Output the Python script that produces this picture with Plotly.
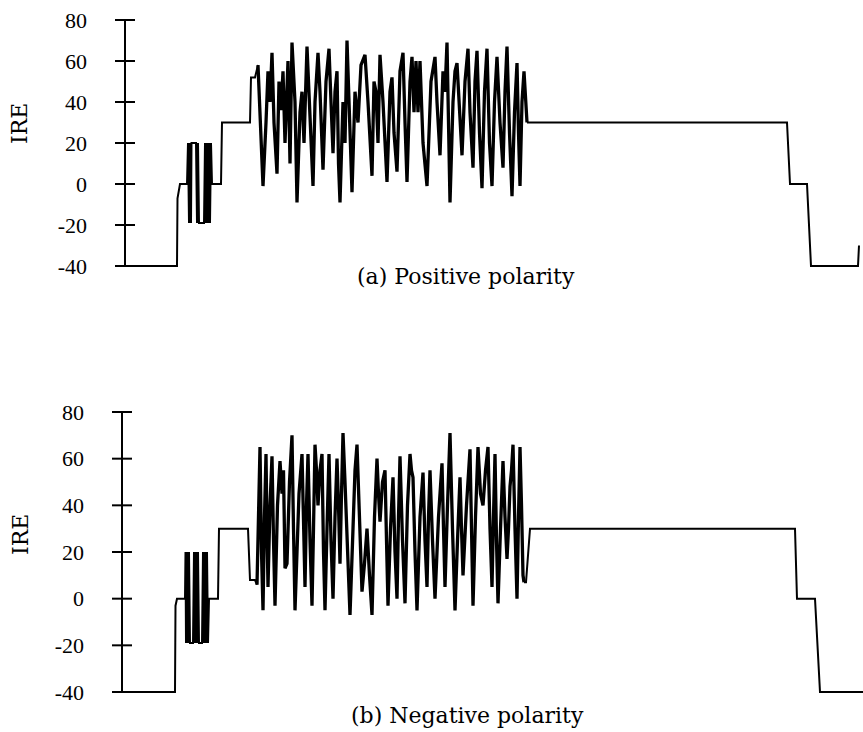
import plotly.graph_objects as go

# ---------------- data (time in µs, level in IRE) ----------------
tick_vals = [-40, -20, 0, 20, 40, 60, 80]
tick_text = ["-40", "-20", "0", "20", "40", "60", "80"]
titles = ["(a) Positive polarity", "(b) Negative polarity"]
axis_label = "IRE"

# (a) positive polarity
t_a_front = [0.0, 5.2, 5.25, 5.5, 6.2]
v_a_front = [-40, -40, -7, 0, 0]
t_a_burst = [6.3, 6.4, 6.5, 6.6, 6.65, 7.1, 7.2, 7.3, 7.4, 7.9, 8.0, 8.1, 8.2, 8.3, 8.4, 8.5, 8.6]
v_a_burst = [20, -19, 20, -19, 20, 20, -19, 20, -19, -19, 20, -19, 20, -19, 20, -19, 20]
t_a_pre = [8.7, 9.6, 9.7, 12.5, 12.6, 13.0, 13.3]
v_a_pre = [0, 0, 30, 30, 52, 52, 58]
t_a_data = [13.3, 13.6, 13.8, 14.1, 14.3, 14.5, 14.7, 14.9, 15.2, 15.4, 15.6, 15.8, 16.0,
            16.3, 16.5, 16.7, 17.0, 17.2, 17.5, 17.7, 17.9, 18.2, 18.5, 18.8, 19.0, 19.3,
            19.5, 19.8, 20.1, 20.4, 20.6, 20.8, 21.0, 21.2, 21.35, 21.5, 21.8, 22.0, 22.2,
            22.4, 22.7, 23.0, 23.3, 23.6, 24.0, 24.3, 24.7, 24.9, 25.1, 25.3, 25.5, 25.8,
            26.2, 26.5, 26.7, 26.9, 27.2, 27.5, 27.8, 28.0, 28.2, 28.5, 28.7, 28.9, 29.1,
            29.3, 29.5, 29.8, 30.2, 30.6, 31.0, 31.2, 31.5, 31.8, 32.0, 32.2, 32.35, 32.5,
            32.8, 33.0, 33.2, 33.5, 33.7, 34.0, 34.3, 34.5, 34.8, 35.0, 35.2, 35.45, 35.7,
            35.95, 36.2, 36.45, 36.7, 36.95, 37.2, 37.5, 37.8, 38.0, 38.2, 38.45, 38.7,
            38.95, 39.2, 39.35, 39.5, 39.7, 39.9, 40.2]
v_a_data = [58, 20, -1, 30, 55, 40, 64, 30, 5, 50, 36, 55, 20,
            60, 10, 69, 40, -9, 35, 45, 20, 67, 30, -1, 40, 64,
            45, 7, 50, 66, 40, 15, 45, 55, 10, -9, 40, 20, 70,
            35, -4, 45, 30, 58, 63, 40, 4, 50, 45, 20, 63, 40,
            1, 45, 52, 25, 6, 55, 64, 30, 1, 50, 62, 35, 60,
            35, 60, 20, -1, 50, 62, 40, 14, 55, 45, 69, 20, -9,
            40, 55, 59, 30, 14, 50, 66, 35, 8, 50, 65, 25, -2,
            45, 66, 20, -1, 40, 62, 30, 8, 45, 67, 25, -6,
            35, 59, 25, -1, 40, 55, 30]
t_a_back = [40.2, 66.2, 66.5, 68.2, 68.6, 73.3, 73.4]
v_a_back = [30, 30, 0, 0, -40, -40, -30]

# (b) negative polarity
t_b_front = [0.0, 5.3, 5.35, 5.5, 6.3]
v_b_front = [-40, -40, -3, 0, 0]
t_b_burst = [6.35, 6.4, 6.5, 6.6, 6.7, 6.8, 7.1, 7.2, 7.3, 7.4, 7.5, 7.6, 7.7, 8.0,
             8.1, 8.2, 8.3, 8.4, 8.5, 8.6]
v_b_burst = [20, -19, 20, -19, 20, -19, -19, 20, -19, 20, -19, 20, -19, -19,
             20, -19, 20, -19, 20, -19]
t_b_pre = [8.7, 9.6, 9.7, 12.6, 12.8, 13.3, 13.5]
v_b_pre = [0, 0, 30, 30, 8, 8, 6]
t_b_data = [13.5, 13.65, 13.8, 13.95, 14.1, 14.25, 14.4, 14.5, 14.6, 14.8, 15.0, 15.15,
            15.3, 15.55, 15.8, 16.0, 16.15, 16.3, 16.5, 16.75, 17.0, 17.15, 17.3, 17.5,
            17.7, 18.0, 18.15, 18.3, 18.45, 18.6, 18.8, 19.0, 19.15, 19.3, 19.45, 19.6,
            19.8, 20.0, 20.15, 20.3, 20.5, 20.7, 20.9, 21.1, 21.3, 21.5, 21.65, 21.8,
            21.95, 22.1, 22.3, 22.5, 22.65, 22.8, 23.1, 23.3, 23.5, 23.75, 24.0, 24.25,
            24.5, 24.75, 25.0, 25.25, 25.5, 25.65, 25.8, 26.05, 26.3, 26.45, 26.6, 26.85,
            27.1, 27.3, 27.5, 27.65, 27.8, 28.05, 28.3, 28.55, 28.8, 28.95, 29.1, 29.3,
            29.5, 29.8, 30.1, 30.3, 30.5, 30.65, 30.8, 31.05, 31.3, 31.65, 32.0, 32.15,
            32.3, 32.55, 32.8, 33.05, 33.3, 33.55, 33.8, 33.95, 34.1, 34.45, 34.8, 34.95,
            35.1, 35.35, 35.6, 35.85, 36.1, 36.35, 36.6, 36.8, 37.0, 37.15, 37.3, 37.45,
            37.6, 37.85, 38.1, 38.3, 38.5, 38.65, 38.8, 38.95, 39.1, 39.3, 39.5, 39.65,
            39.8, 39.95, 40.1, 40.2]
v_b_data = [6, 30, 65, 20, -5, 35, 62, 30, 5, 40, 61, 25,
            -3, 40, 59, 45, 55, 13, 15, 50, 70, 30, -5, 20,
            45, 62, 30, 5, 40, 62, 25, -3, 30, 66, 55, 40,
            55, 62, 20, -5, 30, 62, 25, 0, 35, 60, 40, 15,
            45, 71, 50, 30, 10, -7, 30, 55, 66, 35, 3, 15,
            30, 10, -7, 35, 60, 45, 33, 50, 55, 25, -3, 30,
            52, 20, 0, 35, 61, 25, -2, 40, 62, 55, 52, 20,
            -5, 35, 54, 25, 5, 35, 55, 25, 0, 35, 58, 30,
            5, 40, 71, 30, -5, 25, 52, 30, 10, 40, 64, 30,
            -3, 35, 65, 45, 40, 55, 65, 30, 5, 35, 62, 25,
            -2, 30, 59, 35, 17, 30, 48, 55, 66, 30, 0, 35,
            65, 40, 10, 7]
t_b_back = [40.2, 40.4, 40.8, 67.3, 67.5, 69.3, 69.8, 75.0]
v_b_back = [7, 7, 30, 30, 0, 0, -40, -40]

# ---------------- figure ----------------
W, H = 863, 732
fig = go.Figure()
flat_style = dict(color="black", width=2)
busy_style = dict(color="black", width=3.3)

panels = [
    ("x", "y", t_a_front + t_a_burst + t_a_pre, v_a_front + v_a_burst + v_a_pre,
     t_a_data, v_a_data, t_a_back, v_a_back),
    ("x2", "y2", t_b_front + t_b_burst + t_b_pre, v_b_front + v_b_burst + v_b_pre,
     t_b_data, v_b_data, t_b_back, v_b_back),
]
for xa, ya, tf, vf, td, vd, tb, vb in panels:
    fig.add_trace(go.Scatter(x=tf, y=vf, mode="lines", line=flat_style,
                             xaxis=xa, yaxis=ya, hoverinfo="skip", showlegend=False))
    fig.add_trace(go.Scatter(x=td, y=vd, mode="lines", line=busy_style,
                             xaxis=xa, yaxis=ya, hoverinfo="skip", showlegend=False))
    fig.add_trace(go.Scatter(x=tb, y=vb, mode="lines", line=flat_style,
                             xaxis=xa, yaxis=ya, hoverinfo="skip", showlegend=False))

tick_font = dict(family="Liberation Serif", size=22, color="black")
yax_common = dict(range=[-43, 83], tickmode="array", tickvals=tick_vals, ticktext=tick_text,
                  ticks="", showline=False, showgrid=False, zeroline=False, automargin=False,
                  tickfont=tick_font, anchor="free", ticklabelstandoff=38, fixedrange=True)

fig.update_layout(
    template="none",
    width=W, height=H,
    margin=dict(l=0, r=0, t=0, b=0, pad=0, autoexpand=False),
    paper_bgcolor="white", plot_bgcolor="white",
    xaxis=dict(domain=[0, 1], range=[-12.5, 73.8], visible=False, anchor="y",
               automargin=False, fixedrange=True),
    yaxis=dict(domain=[1 - 272.15 / H, 1 - 13.85 / H], position=125 / W, **yax_common),
    xaxis2=dict(domain=[0, 1], range=[-12.2, 74.1], visible=False, anchor="y2",
                automargin=False, fixedrange=True),
    yaxis2=dict(domain=[1 - 699 / H, 1 - 405 / H], position=122 / W, **yax_common),
)

shapes = []
for xr, yr in (("x", "y"), ("x2", "y2")):
    shapes.append(dict(type="line", xref=xr, yref=yr, x0=0, x1=0,
                       y0=tick_vals[0], y1=tick_vals[-1], line=dict(color="black", width=2)))
    for v in tick_vals:
        shapes.append(dict(type="line", xref=xr, yref=yr, x0=-1.0, x1=1.0,
                           y0=v, y1=v, line=dict(color="black", width=2)))
fig.update_layout(shapes=shapes)

title_font = dict(family="DejaVu Serif", size=22, color="black")
label_font = dict(family="DejaVu Serif", size=22, color="black")
fig.add_annotation(text=titles[0], x=466 / W, y=1 - 276 / H, xref="paper", yref="paper",
                   showarrow=False, font=title_font, xanchor="center", yanchor="middle")
fig.add_annotation(text=titles[1], x=467 / W, y=1 - 715 / H, xref="paper", yref="paper",
                   showarrow=False, font=title_font, xanchor="center", yanchor="middle")
fig.add_annotation(text=axis_label, x=20 / W, y=1 - 124 / H, xref="paper", yref="paper",
                   showarrow=False, font=label_font, textangle=-90,
                   xanchor="center", yanchor="middle")
fig.add_annotation(text=axis_label, x=20 / W, y=1 - 535 / H, xref="paper", yref="paper",
                   showarrow=False, font=label_font, textangle=-90,
                   xanchor="center", yanchor="middle")

fig.write_html("out.html", config={"displayModeBar": False},
               post_script="document.body.style.margin='0';document.body.style.overflow='hidden';")
